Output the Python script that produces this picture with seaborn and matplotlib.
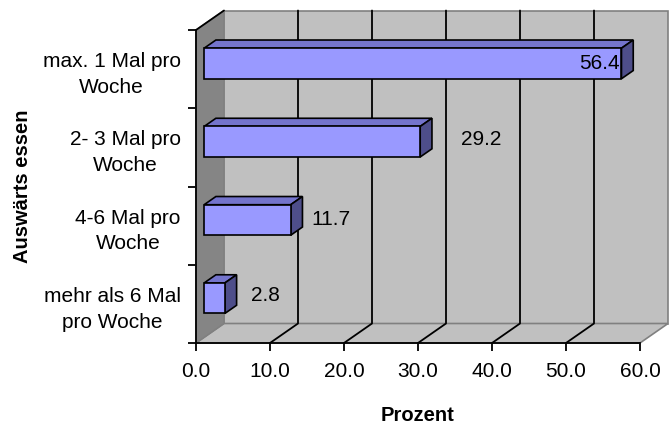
import matplotlib
matplotlib.use("Agg")
import matplotlib.pyplot as plt
import matplotlib.transforms as mtransforms
from matplotlib.patches import Polygon
import seaborn as sns

# Data
categories = ["max. 1 Mal pro\nWoche", "2- 3 Mal pro\nWoche", "4-6 Mal pro\nWoche",
              "mehr als 6 Mal\npro Woche"]
values = [56.4, 29.2, 11.7, 2.8]
value_labels = ["56.4", "29.2", "11.7", "2.8"]
x_ticks = [0, 10, 20, 30, 40, 50, 60]
x_tick_labels = ["0.0", "10.0", "20.0", "30.0", "40.0", "50.0", "60.0"]

# Style
DPI = 100
W, H = 671, 426
DEPTH = (28.0, 19.5)          # full depth of the box, in pixels (right, up)
BAR_FRONT = 0.29              # fraction of depth where bar front faces sit
BAR_BACK = 0.71               # fraction of depth where bar back faces sit
label_dx = [-22, 61, 40, 41]  # label centre relative to bar end, in pixels
label_dy = [0, 2, 0, 3]
FRONT = "#9999FF"
TOP = "#7474CC"
SIDE = "#4E4E8A"
WALL = "#C0C0C0"
SIDEWALL = "#858585"
EDGE = "#808080"

sns.set_style("white")
plt.rcParams["font.family"] = ["Liberation Sans", "DejaVu Sans"]
plt.rcParams["text.color"] = "black"
plt.rcParams["axes.labelcolor"] = "black"
plt.rcParams["xtick.color"] = "black"
plt.rcParams["ytick.color"] = "black"

fig = plt.figure(figsize=(W / DPI, H / DPI), dpi=DPI)
left, right, top, bottom = 196, 640, 30, 343
ax = fig.add_axes([left / W, 1 - bottom / H, (right - left) / W, (bottom - top) / H])
ax.set_facecolor("none")

sns.barplot(x=values, y=categories, orient="h", color=FRONT, saturation=1,
            width=0.39, edgecolor="black", linewidth=1.2, ax=ax, zorder=5)
bars = list(ax.patches)

ax.set_xlim(0, 60)
ax.set_ylim(3.5, -0.5)

fx, fy = DEPTH[0] * BAR_FRONT, DEPTH[1] * BAR_FRONT
bx, by = DEPTH[0] * BAR_BACK, DEPTH[1] * BAR_BACK
to_fig = fig.transFigure.inverted()


def disp(x, y, dx=0.0, dy=0.0):
    px, py = ax.transData.transform((x, y))
    return (px + dx, py + dy)


def poly(points, face, edge, lw=1.0, z=1):
    pts = to_fig.transform(points)
    p = Polygon(pts, closed=True, facecolor=face, edgecolor=edge, linewidth=lw,
                transform=fig.transFigure, clip_on=False, zorder=z, joinstyle="miter")
    ax.add_patch(p)
    return p


X0, X1 = 0, 60
Y_BOT, Y_TOP = 3.5, -0.5
DX, DY = DEPTH

# Back wall
poly([disp(X0, Y_BOT, DX, DY), disp(X1, Y_BOT, DX, DY),
      disp(X1, Y_TOP, DX, DY), disp(X0, Y_TOP, DX, DY)], WALL, EDGE, 1.2, z=1)
# Floor
poly([disp(X0, Y_BOT), disp(X1, Y_BOT), disp(X1, Y_BOT, DX, DY), disp(X0, Y_BOT, DX, DY)],
     WALL, EDGE, 1.2, z=1)
# Left side wall
poly([disp(X0, Y_BOT), disp(X0, Y_TOP), disp(X0, Y_TOP, DX, DY), disp(X0, Y_BOT, DX, DY)],
     SIDEWALL, EDGE, 1.0, z=1.5)
# black top edge of the side wall
a, b = to_fig.transform([disp(X0, Y_TOP), disp(X0, Y_TOP, DX, DY)])
ax.add_line(plt.Line2D([a[0], b[0]], [a[1], b[1]], color="black", lw=1.3,
                       transform=fig.transFigure, clip_on=False, zorder=2))

# Gridlines on the back wall and across the floor
for xv in x_ticks[1:-1]:
    pts = to_fig.transform([disp(xv, Y_BOT), disp(xv, Y_BOT, DX, DY), disp(xv, Y_TOP, DX, DY)])
    ax.add_line(plt.Line2D(pts[:, 0], pts[:, 1], color="black", lw=1.3,
                           transform=fig.transFigure, clip_on=False, zorder=2))

# Shift bar fronts into depth and add top and side faces
bar_tr = mtransforms.offset_copy(ax.transData, fig=fig, x=fx, y=fy, units="dots")
ddx, ddy = bx - fx, by - fy
for patch in bars:
    patch.set_transform(bar_tr)
    patch.set_clip_on(False)
    x0, yA = patch.get_x(), patch.get_y()
    x1, yB = x0 + patch.get_width(), yA + patch.get_height()
    (px0, pyA), (px1, pyB) = ax.transData.transform([(x0, yA), (x1, yB)])
    px0 += fx; px1 += fx; pyA += fy; pyB += fy
    ytop, ybot = max(pyA, pyB), min(pyA, pyB)
    poly([(px0, ytop), (px1, ytop), (px1 + ddx, ytop + ddy), (px0 + ddx, ytop + ddy)],
         TOP, "black", 1.2, z=4)
    poly([(px1, ybot), (px1, ytop), (px1 + ddx, ytop + ddy), (px1 + ddx, ybot + ddy)],
         SIDE, "black", 1.2, z=4)

# Value labels
for i, (v, lab) in enumerate(zip(values, value_labels)):
    tr = mtransforms.offset_copy(ax.transData, fig=fig, x=fx + label_dx[i],
                                 y=fy + label_dy[i], units="dots")
    ax.text(v, i, lab, transform=tr, ha="center", va="center", fontsize=15,
            color="black", zorder=6, clip_on=False)

# Axes
for s in ["top", "right"]:
    ax.spines[s].set_visible(False)
for s in ["left", "bottom"]:
    ax.spines[s].set_color("black")
    ax.spines[s].set_linewidth(1.3)
    ax.spines[s].set_zorder(3)

ax.set_xticks(x_ticks)
ax.set_xticklabels(x_tick_labels, fontsize=15)
ax.set_yticks([-0.5, 0.5, 1.5, 2.5, 3.5])
ax.set_yticklabels([])
ax.set_yticks(range(len(categories)), minor=True)
ax.set_yticklabels(categories, minor=True, fontsize=15, linespacing=1.45)
for t in ax.get_yticklabels(minor=True):
    t.set_multialignment("center")
    t.set_y(t.get_position()[1])
ax.tick_params(axis="x", which="major", direction="out", length=6, width=1.3,
               color="black", pad=8, bottom=True)
ax.tick_params(axis="y", which="major", direction="out", length=6, width=1.3,
               color="black", left=True)
ax.tick_params(axis="y", which="minor", length=0, pad=11)
ax.grid(False)

ax.set_xlabel("Prozent", fontsize=14.5, fontweight="bold", labelpad=18)
ax.set_ylabel("Auswärts essen", fontsize=14.5, fontweight="bold", labelpad=8)

fig.savefig("out.png", dpi=DPI)
